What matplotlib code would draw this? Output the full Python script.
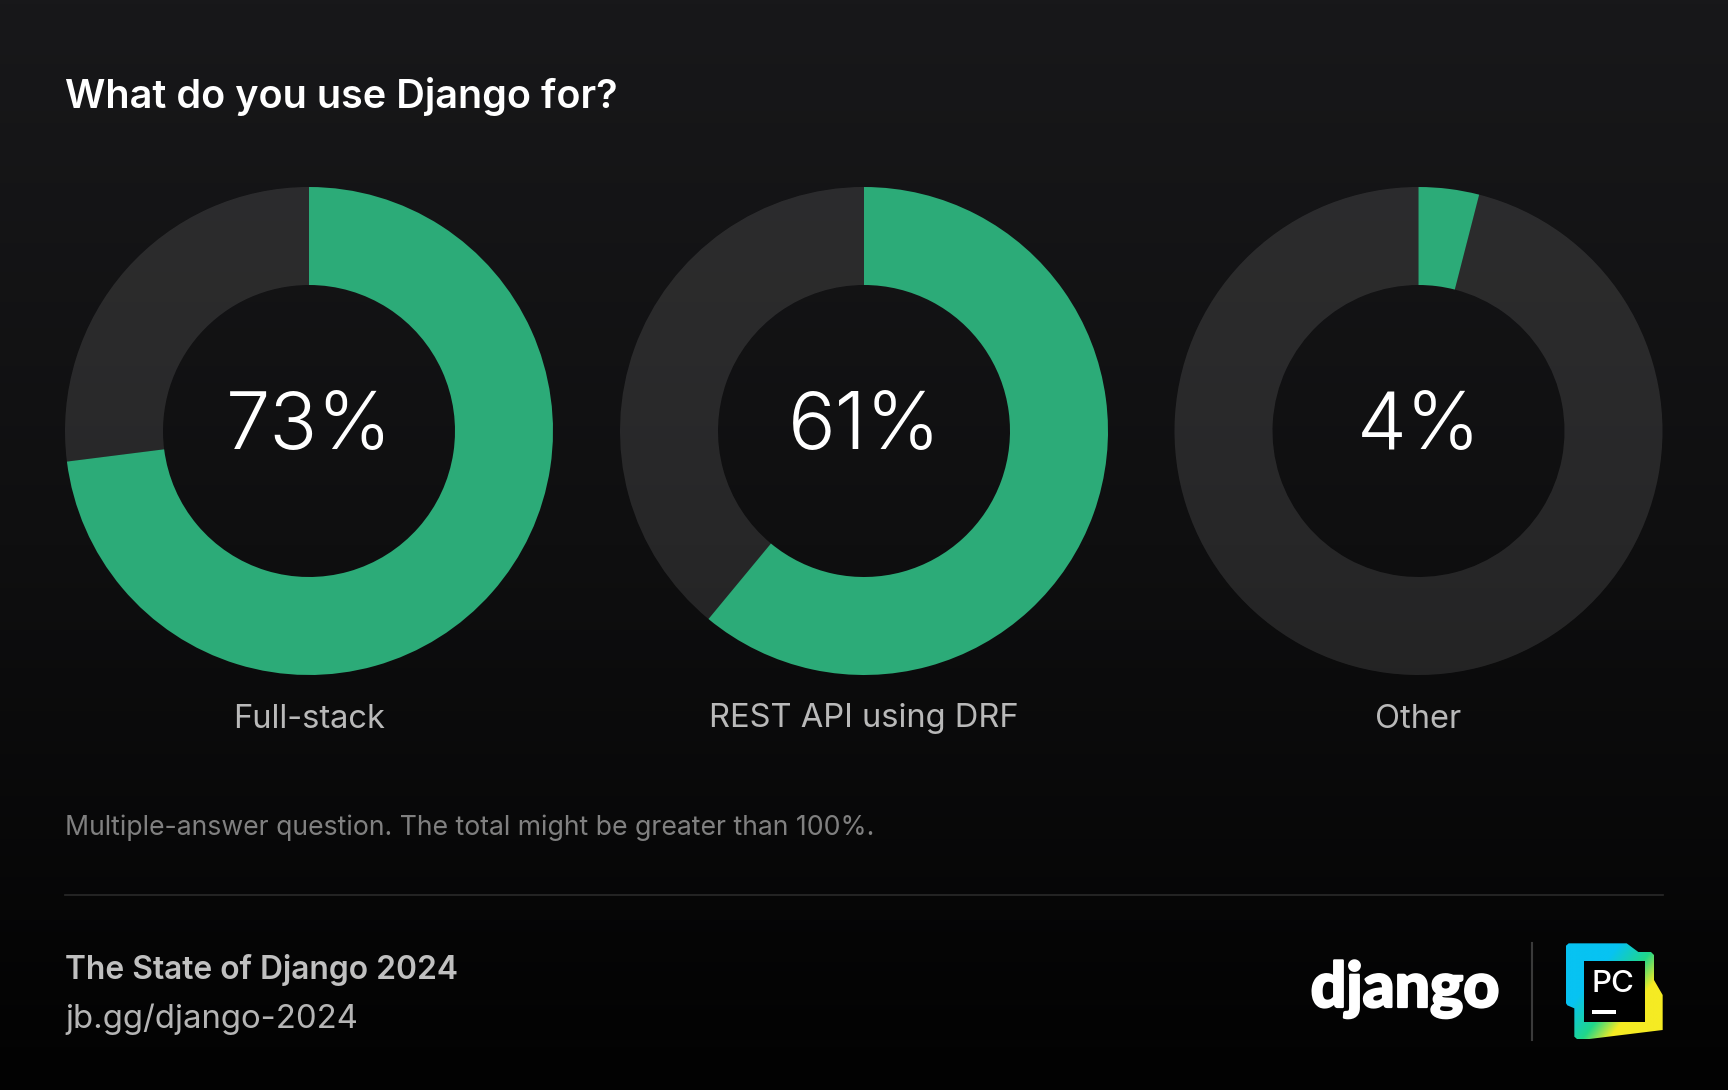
import numpy as np
import matplotlib
matplotlib.use("Agg")
import matplotlib.pyplot as plt
import matplotlib.patheffects as pe
from matplotlib.patches import Polygon, Rectangle
from matplotlib.colors import LinearSegmentedColormap

# ---- data ----
categories = ["Full-stack", "REST API using DRF", "Other"]
shares = [73, 61, 4]
title = "What do you use Django for?"
note = "Multiple-answer question. The total might be greater than 100%."
footer_title = "The State of Django 2024"
footer_link = "jb.gg/django-2024"

W, H = 1728, 1090
GREEN = "#2cab78"
FONT = ["Inter", "DejaVu Sans"]

fig = plt.figure(figsize=(W / 100, H / 100), dpi=100)

# full-figure canvas in pixel coordinates
bg = fig.add_axes([0, 0, 1, 1])
bg.set_xlim(0, W)
bg.set_ylim(H, 0)
bg.axis("off")
grad = np.linspace(0, 1, 256).reshape(-1, 1)
bg_cmap = LinearSegmentedColormap.from_list("bg", ["#18181a", "#0f0f10", "#020202"])
bg.imshow(grad, extent=(0, W, H, 0), aspect="auto", cmap=bg_cmap, zorder=0)

# donuts
centers_x = [309, 864, 1418.5]
center_y = 431
R = 244
HOLE = 146
for name, val, cx in zip(categories, shares, centers_x):
    ax = fig.add_axes([(cx - R) / W, 1 - (center_y + R) / H, 2 * R / W, 2 * R / H])
    ax.patch.set_alpha(0)
    wedges, _ = ax.pie([val, 100 - val], startangle=90, counterclock=False, radius=1,
                       colors=[GREEN, (1, 1, 1, 0.1)],
                       wedgeprops=dict(width=1 - HOLE / R, linewidth=0))
    ax.set_xlim(-1, 1)
    ax.set_ylim(-1, 1)
    bg.text(cx, center_y + 18.5, f"{val}%", color="white", fontsize=57, family=["Inter"],
            fontweight=300, ha="center", va="baseline", zorder=5)
    bg.text(cx, 719, name, color="#b9b9b9", fontsize=23.5, family=FONT, ha="center",
            va="center", zorder=5)

bg.text(65, 96, title, color="white", fontsize=28.5, family=FONT, fontweight=600,
        ha="left", va="center", zorder=5)
bg.text(65, 828, note, color="#808080", fontsize=19.2, family=FONT, ha="left", va="center", zorder=5)
bg.plot([65, 1663], [895, 895], color="#2a2a2a", lw=1.2, zorder=3)
bg.text(65, 970, footer_title, color="#c0c0c0", fontsize=22.9, family=FONT, fontweight=600,
        ha="left", va="center", zorder=5)
bg.text(65, 1019, footer_link, color="#b5b5b5", fontsize=23.7, family=FONT, ha="left",
        va="center", zorder=5)

# django wordmark and divider
bg.text(1405, 1007, "django", color="white", fontsize=45, family=["Lato"], fontweight=900,
        ha="center", va="baseline", zorder=5,
        path_effects=[pe.withStroke(linewidth=1.6, foreground="white")])
bg.plot([1532, 1532], [943, 1040], color="#3a3a3a", lw=1.5, zorder=3)

# PyCharm logo
outline = np.array([(947, 78), (956, 70), (1130, 70), (1165, 96), (1203, 96), (1212, 105),
                    (1212, 180), (1238, 225), (1238, 330), (1010, 358), (982, 358), (973, 350),
                    (973, 265), (952, 256), (947, 248)], float)
outline = outline / 3 + [1250, 920]
x0, x1, y0, y1 = outline[:, 0].min(), outline[:, 0].max(), outline[:, 1].min(), outline[:, 1].max()
u, v = np.meshgrid(np.linspace(0, 1, 120), np.linspace(0, 1, 120))
blue, green, yellow = np.array([7, 195, 242]), np.array([33, 215, 137]), np.array([245, 235, 35])
t = (0.9 * u + 0.7 * v)[..., None]
col = np.where(t < 0.85, blue + (green - blue) * np.clip((t - 0.5) / 0.35, 0, 1),
               green + (yellow - green) * np.clip((t - 0.85) / 0.25, 0, 1))
clip = Polygon(outline, closed=True, transform=bg.transData, facecolor="none", edgecolor="none")
bg.add_patch(clip)
im = bg.imshow(col / 255, extent=(x0, x1, y1, y0), aspect="auto", zorder=4)
im.set_clip_path(clip)
bg.add_patch(Rectangle((1250 + 1002 / 3, 920 + 123 / 3), 183 / 3, 182 / 3, facecolor="black",
                       edgecolor="none", zorder=5))
bg.text(1591, 992, "PC", color="white", fontsize=22.5, family=FONT, fontweight=500,
        ha="left", va="baseline", zorder=6)
bg.add_patch(Rectangle((1592, 1010), 24, 4, facecolor="white", edgecolor="none", zorder=6))
bg.set_xlim(0, W)
bg.set_ylim(H, 0)

fig.savefig("out.png", dpi=100, facecolor="black")
